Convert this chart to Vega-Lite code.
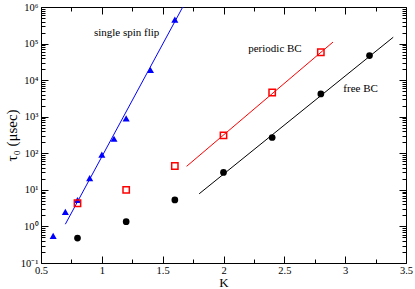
{
  "$schema": "https://vega.github.io/schema/vega-lite/v6.json",
  "width": 365,
  "height": 256,
  "autosize": "none",
  "padding": {"left": 41, "top": 7, "right": 9, "bottom": 26},
  "background": "white",
  "config": {
    "view": {"stroke": "black", "strokeWidth": 1},
    "axis": {
      "grid": false,
      "domain": false,
      "tickColor": "black",
      "labelColor": "black",
      "labelFont": "Liberation Serif",
      "labelFontSize": 10.5,
      "titleFont": "Liberation Serif",
      "titleFontWeight": "normal",
      "titleColor": "black"
    }
  },
  "datasets": {
    "lines": [
      {"series": "single spin flip", "K": 0.7, "tau": 1.15},
      {"series": "single spin flip", "K": 1.665, "tau": 1000000},
      {"series": "periodic BC", "K": 1.697, "tau": 44},
      {"series": "periodic BC", "K": 2.9, "tau": 110000},
      {"series": "free BC", "K": 1.8, "tau": 7.8},
      {"series": "free BC", "K": 3.395, "tau": 149000}
    ],
    "points": [
      {"series": "single spin flip", "K": 0.6, "tau": 0.55},
      {"series": "single spin flip", "K": 0.7, "tau": 2.5},
      {"series": "single spin flip", "K": 0.8, "tau": 5.3},
      {"series": "single spin flip", "K": 0.9, "tau": 21},
      {"series": "single spin flip", "K": 1.0, "tau": 92},
      {"series": "single spin flip", "K": 1.1, "tau": 250},
      {"series": "single spin flip", "K": 1.2, "tau": 900},
      {"series": "single spin flip", "K": 1.4, "tau": 19000},
      {"series": "single spin flip", "K": 1.6, "tau": 450000},
      {"series": "periodic BC", "K": 0.8, "tau": 4.3},
      {"series": "periodic BC", "K": 1.2, "tau": 10},
      {"series": "periodic BC", "K": 1.6, "tau": 45},
      {"series": "periodic BC", "K": 2.0, "tau": 310},
      {"series": "periodic BC", "K": 2.4, "tau": 4600},
      {"series": "periodic BC", "K": 2.8, "tau": 58000},
      {"series": "free BC", "K": 0.8, "tau": 0.48},
      {"series": "free BC", "K": 1.2, "tau": 1.35},
      {"series": "free BC", "K": 1.6, "tau": 5.3},
      {"series": "free BC", "K": 2.0, "tau": 30},
      {"series": "free BC", "K": 2.4, "tau": 270},
      {"series": "free BC", "K": 2.8, "tau": 4200},
      {"series": "free BC", "K": 3.2, "tau": 47000}
    ],
    "labels": [
      {"label": "single spin flip", "K": 1.204, "tau": 200000},
      {"label": "periodic BC", "K": 2.423, "tau": 69000},
      {"label": "free BC", "K": 3.127, "tau": 5900}
    ]
  },
  "resolve": {"axis": {"x": "independent", "y": "independent"}},
  "layer": [
    {
      "data": {"name": "lines"},
      "mark": {"type": "line", "strokeWidth": 1, "clip": true},
      "encoding": {
        "x": {"field": "K", "type": "quantitative",
          "scale": {"domain": [0.5, 3.5], "nice": false, "zero": false},
          "axis": {"orient": "bottom", "values": [0.5, 1, 1.5, 2, 2.5, 3, 3.5], "format": "~g", "tickSize": -7, "labelPadding": 9, "title": "K", "titleFontSize": 13, "titlePadding": 1, "labelFlush": false}},
        "y": {"field": "tau", "type": "quantitative",
          "scale": {"type": "log", "domain": [0.1, 1000000], "nice": false},
          "axis": {"orient": "left", "values": [0.1, 1, 10, 100, 1000, 10000, 100000, 1000000], "tickSize": -7, "labelPadding": 10, "labelFlush": false,
            "labelExpr": "'10' + ['\u207b\u00b9','\u2070','\u00b9','\u00b2','\u00b3','\u2074','\u2075','\u2076'][round(log(datum.value)/LN10)+1]",
            "title": "\u03c4\u2080 (\u03bcsec)", "titleFontSize": 15, "titlePadding": 1}},
        "color": {"field": "series", "type": "nominal", "legend": null,
          "scale": {"domain": ["single spin flip", "periodic BC", "free BC"], "range": ["#0000ff", "#ff0000", "#000000"]}}
      }
    },
    {
      "data": {"name": "points"},
      "transform": [{"filter": "datum.series === 'single spin flip'"}],
      "mark": {"type": "point", "shape": "triangle-up", "filled": true, "size": 50, "color": "#0000ff", "opacity": 1},
      "encoding": {
        "x": {"field": "K", "type": "quantitative",
          "axis": {"orient": "top", "values": [0.5, 1, 1.5, 2, 2.5, 3, 3.5], "tickSize": -7, "labels": false, "title": null}},
        "y": {"field": "tau", "type": "quantitative", "scale": {"type": "log"},
          "axis": {"orient": "right", "values": [0.1, 1, 10, 100, 1000, 10000, 100000, 1000000], "tickSize": -7, "labels": false, "title": null}}
      }
    },
    {
      "data": {"name": "points"},
      "transform": [{"filter": "datum.series === 'periodic BC'"}],
      "mark": {"type": "square", "filled": false, "size": 40, "color": "#ff0000", "strokeWidth": 1.5, "opacity": 1},
      "encoding": {
        "x": {"field": "K", "type": "quantitative",
          "axis": {"orient": "bottom", "values": [0.75, 1.25, 1.75, 2.25, 2.75, 3.25], "tickSize": -4, "labels": false, "title": null}},
        "y": {"field": "tau", "type": "quantitative", "scale": {"type": "log"},
          "axis": {"orient": "left", "values": [0.2,0.3,0.4,0.5,0.6,0.7,0.8,0.9,2,3,4,5,6,7,8,9,20,30,40,50,60,70,80,90,200,300,400,500,600,700,800,900,2000,3000,4000,5000,6000,7000,8000,9000,20000,30000,40000,50000,60000,70000,80000,90000,200000,300000,400000,500000,600000,700000,800000,900000], "tickSize": -4, "labels": false, "title": null}}
      }
    },
    {
      "data": {"name": "points"},
      "transform": [{"filter": "datum.series === 'free BC'"}],
      "mark": {"type": "circle", "size": 45, "color": "#000000", "opacity": 1},
      "encoding": {
        "x": {"field": "K", "type": "quantitative",
          "axis": {"orient": "top", "values": [0.75, 1.25, 1.75, 2.25, 2.75, 3.25], "tickSize": -4, "labels": false, "title": null}},
        "y": {"field": "tau", "type": "quantitative", "scale": {"type": "log"},
          "axis": {"orient": "right", "values": [0.2,0.3,0.4,0.5,0.6,0.7,0.8,0.9,2,3,4,5,6,7,8,9,20,30,40,50,60,70,80,90,200,300,400,500,600,700,800,900,2000,3000,4000,5000,6000,7000,8000,9000,20000,30000,40000,50000,60000,70000,80000,90000,200000,300000,400000,500000,600000,700000,800000,900000], "tickSize": -4, "labels": false, "title": null}}
      }
    },
    {
      "data": {"name": "labels"},
      "mark": {"type": "text", "font": "Liberation Serif", "fontSize": 11, "color": "black", "align": "center", "baseline": "middle"},
      "encoding": {
        "x": {"field": "K", "type": "quantitative", "axis": null},
        "y": {"field": "tau", "type": "quantitative", "scale": {"type": "log"}, "axis": null},
        "text": {"field": "label"}
      }
    }
  ]
}
